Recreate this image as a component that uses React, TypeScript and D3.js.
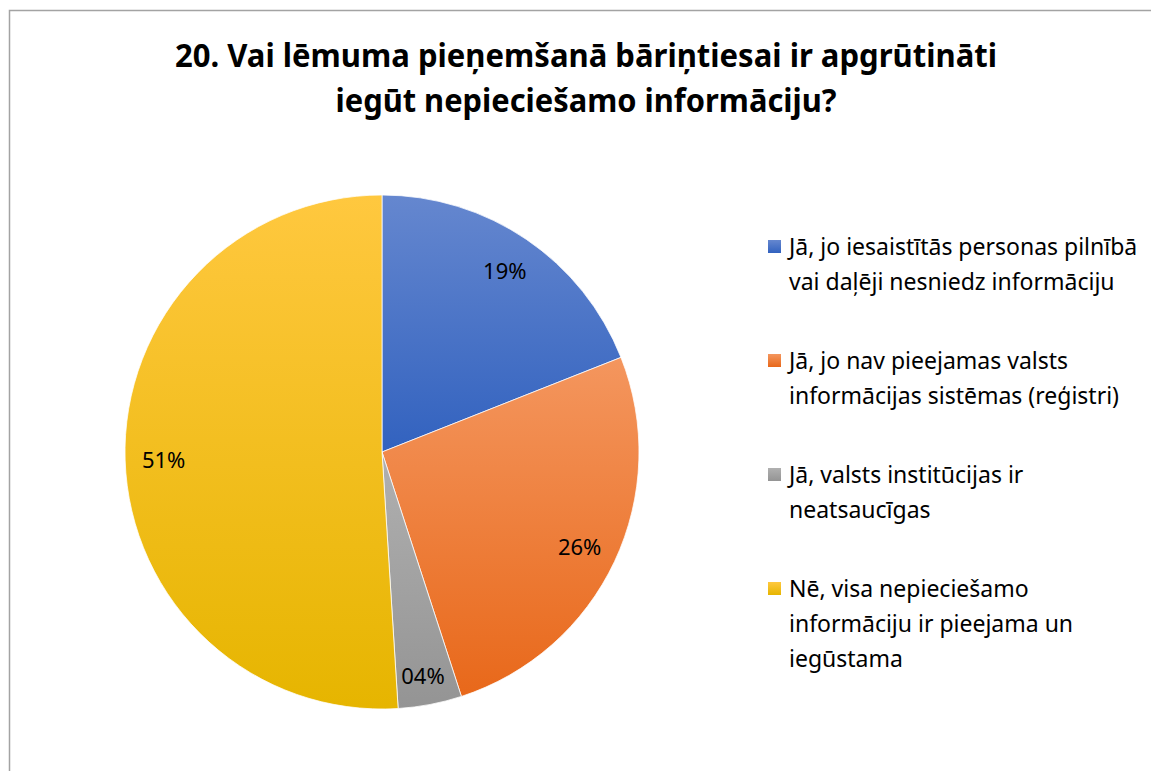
import { useEffect, useRef } from "react";
import * as d3 from "d3";

const titleLines = [
  "20. Vai lēmuma pieņemšanā bāriņtiesai ir apgrūtināti",
  "iegūt nepieciešamo informāciju?",
];

const categories = [
  ["Jā, jo iesaistītās personas pilnībā", "vai daļēji nesniedz informāciju"],
  ["Jā, jo nav pieejamas valsts", "informācijas sistēmas (reģistri)"],
  ["Jā, valsts institūcijas ir", "neatsaucīgas"],
  ["Nē, visa nepieciešamo", "informāciju ir pieejama un", "iegūstama"],
];
const shares = [0.19, 0.26, 0.04, 0.51];

// light top / base bottom, per slice
const topColors = ["#6587cf", "#f4965e", "#b0b0b0", "#ffc83f"];
const bottomColors = ["#3262bf", "#e8681a", "#949494", "#e6b500"];

const W = 1151;
const H = 771;
const FONT = "'Noto Sans', 'Open Sans', sans-serif";

export default function App() {
  const svgRef = useRef<SVGSVGElement>(null);

  useEffect(() => {
    const svg = d3.select(svgRef.current);
    svg.selectAll("*").remove();

    // outer chart border (runs off the right/bottom edge in the reference)
    svg
      .append("rect")
      .attr("x", 9.5)
      .attr("y", 10.5)
      .attr("width", W + 50)
      .attr("height", H + 50)
      .attr("fill", "#fff")
      .attr("stroke", "#a3a3a3")
      .attr("stroke-width", 1.5);

    const defs = svg.append("defs");
    shares.forEach((_, i) => {
      const g = defs
        .append("linearGradient")
        .attr("id", `grad${i}`)
        .attr("x1", 0)
        .attr("y1", 0)
        .attr("x2", 0)
        .attr("y2", 1);
      g.append("stop").attr("offset", "0%").attr("stop-color", topColors[i]);
      g.append("stop").attr("offset", "100%").attr("stop-color", bottomColors[i]);
    });

    // title
    const title = svg
      .append("text")
      .attr("text-anchor", "middle")
      .attr("font-family", FONT)
      .attr("font-weight", 700)
      .attr("font-size", 33)
      .attr("fill", "#000");
    title
      .selectAll("tspan")
      .data(titleLines)
      .join("tspan")
      .attr("x", 586)
      .attr("y", (_, i) => 67 + i * 45)
      .attr("textLength", (_, i) => (i === 0 ? 822 : 501))
      .attr("lengthAdjust", "spacingAndGlyphs")
      .text((d) => d);

    // pie
    const cx = 382;
    const cy = 452;
    const r = 257;
    const pie = d3.pie<number>().sort(null).value((d) => d);
    const arcs = pie(shares);
    const arc = d3.arc<d3.PieArcDatum<number>>().innerRadius(0).outerRadius(r);
    const labelArc = d3
      .arc<d3.PieArcDatum<number>>()
      .innerRadius(r * 0.85)
      .outerRadius(r * 0.85);

    const g = svg.append("g").attr("transform", `translate(${cx},${cy})`);
    g.selectAll("path")
      .data(arcs)
      .join("path")
      .attr("d", arc)
      .attr("fill", (_, i) => `url(#grad${i})`)
      .attr("stroke", "#fff")
      .attr("stroke-width", 0.75);

    const fmt = (v: number) => String(Math.round(v * 100)).padStart(2, "0") + "%";
    g.selectAll("text.lbl")
      .data(arcs)
      .join("text")
      .attr("class", "lbl")
      .attr("transform", (d) => {
        const [x, y] = labelArc.centroid(d);
        // Excel nudges boxes near the bottom a bit further out
        return `translate(${x},${y + (y > 0 ? Math.max(0, 12 - Math.abs(x) / 20) : 0)})`;
      })
      .attr("text-anchor", "middle")
      .attr("dy", "0.35em")
      .attr("font-family", FONT)
      .attr("font-size", 22)
      .attr("fill", "#000")
      .text((d) => fmt(d.data));

    // legend
    const lineH = 35;
    const entryGap = 79;
    let y = 255;
    const legend = svg.append("g").attr("font-family", FONT).attr("font-size", 23);
    categories.forEach((lines, i) => {
      legend
        .append("rect")
        .attr("x", 768)
        .attr("y", y - 15)
        .attr("width", 13)
        .attr("height", 13)
        .attr("fill", `url(#grad${i})`);
      lines.forEach((t, j) => {
        legend
          .append("text")
          .attr("x", 789)
          .attr("y", y + j * lineH)
          .attr("fill", "#000")
          .text(t);
      });
      y += (lines.length - 1) * lineH + entryGap;
    });
  }, []);

  return (
    <svg
      ref={svgRef}
      width={W}
      height={H}
      style={{ position: "absolute", left: 0, top: 0, background: "#fff" }}
    />
  );
}
